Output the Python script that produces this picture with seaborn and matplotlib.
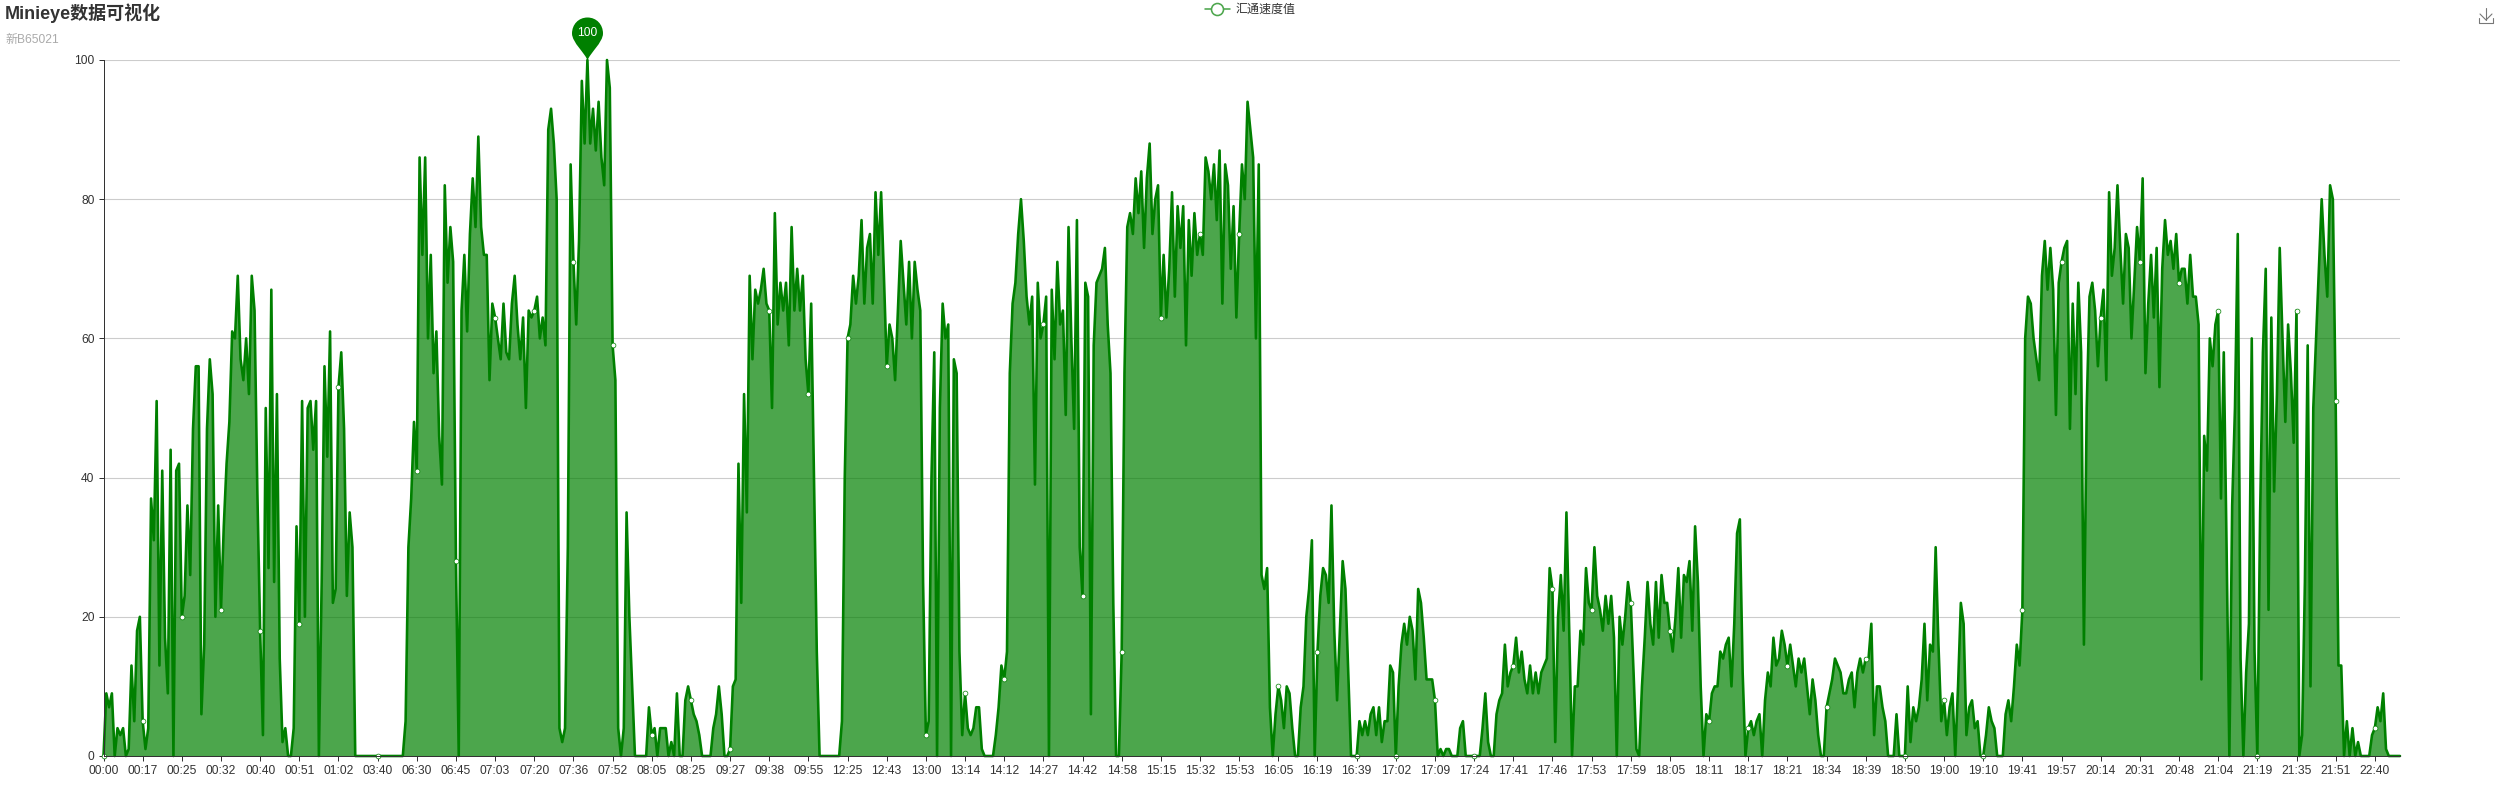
import numpy as np
import pandas as pd
import matplotlib
matplotlib.use("Agg")
import matplotlib.pyplot as plt
import seaborn as sns
from matplotlib.lines import Line2D
from matplotlib.path import Path

W, H = 2500, 800
PT = 0.72  # one pixel in points at dpi 100

title = "Minieye数据可视化"
subtitle = "新B65021"
series_name = "汇通速度值"

tick_labels = [
    "00:00", "00:17", "00:25", "00:32", "00:40", "00:51", "01:02", "03:40", "06:30", "06:45",
    "07:03", "07:20", "07:36", "07:52", "08:05", "08:25", "09:27", "09:38", "09:55", "12:25",
    "12:43", "13:00", "13:14", "14:12", "14:27", "14:42", "14:58", "15:15", "15:32", "15:53",
    "16:05", "16:19", "16:39", "17:02", "17:09", "17:24", "17:41", "17:46", "17:53", "17:59",
    "18:05", "18:11", "18:17", "18:21", "18:34", "18:39", "18:50", "19:00", "19:10", "19:41",
    "19:57", "20:14", "20:31", "20:48", "21:04", "21:19", "21:35", "21:51", "22:40",
]
y_ticks = [0, 20, 40, 60, 80, 100]

# one row per labelled tick, 14 readings between two labels
points_per_tick = 14
speed = [
    0, 9, 7, 9, 0, 4, 3, 4, 0, 1, 13, 5, 18, 20,
    5, 1, 4, 37, 31, 51, 13, 41, 17, 9, 44, 0, 41, 42,
    20, 23, 36, 26, 47, 56, 56, 6, 16, 47, 57, 52, 20, 36,
    21, 33, 42, 48, 61, 60, 69, 57, 54, 60, 52, 69, 64, 38,
    18, 3, 50, 27, 67, 25, 52, 14, 2, 4, 0, 0, 4, 33,
    19, 51, 20, 50, 51, 44, 51, 0, 25, 56, 43, 61, 22, 24,
    53, 58, 47, 23, 35, 30, 0, 0, 0, 0, 0, 0, 0, 0,
    0, 0, 0, 0, 0, 0, 0, 0, 0, 0, 5, 30, 37, 48,
    41, 86, 72, 86, 60, 72, 55, 61, 46, 39, 82, 68, 76, 71,
    28, 0, 64, 72, 61, 75, 83, 76, 89, 76, 72, 72, 54, 65,
    63, 60, 57, 65, 58, 57, 65, 69, 62, 57, 63, 50, 64, 63,
    64, 66, 60, 63, 59, 90, 93, 88, 80, 4, 2, 4, 30, 85,
    71, 62, 74, 97, 88, 100, 88, 93, 87, 94, 86, 82, 100, 96,
    59, 54, 4, 0, 4, 35, 20, 10, 0, 0, 0, 0, 0, 7,
    3, 4, 0, 4, 4, 4, 0, 2, 0, 9, 0, 0, 8, 10,
    8, 6, 5, 3, 0, 0, 0, 0, 4, 6, 10, 6, 0, 0,
    1, 10, 11, 42, 22, 52, 35, 69, 57, 67, 65, 67, 70, 65,
    64, 50, 78, 62, 68, 64, 68, 59, 76, 64, 70, 64, 69, 57,
    52, 65, 40, 15, 0, 0, 0, 0, 0, 0, 0, 0, 5, 40,
    60, 62, 69, 65, 69, 77, 65, 73, 75, 65, 81, 72, 81, 69,
    56, 62, 60, 54, 64, 74, 68, 62, 71, 60, 71, 67, 64, 25,
    3, 5, 40, 58, 0, 50, 65, 60, 62, 0, 57, 55, 15, 3,
    9, 4, 3, 4, 7, 7, 1, 0, 0, 0, 0, 3, 7, 13,
    11, 15, 55, 65, 68, 75, 80, 74, 66, 62, 66, 39, 68, 60,
    62, 66, 0, 67, 57, 71, 62, 64, 49, 76, 60, 47, 77, 30,
    23, 68, 66, 6, 59, 68, 69, 70, 73, 62, 55, 22, 0, 0,
    15, 55, 76, 78, 75, 83, 78, 84, 73, 83, 88, 75, 80, 82,
    63, 72, 63, 70, 81, 66, 79, 73, 79, 59, 77, 69, 78, 72,
    75, 72, 86, 84, 80, 85, 77, 87, 65, 85, 82, 70, 79, 63,
    75, 85, 80, 94, 90, 86, 60, 85, 26, 24, 27, 7, 0, 6,
    10, 8, 4, 10, 9, 4, 0, 0, 7, 10, 20, 24, 31, 0,
    15, 23, 27, 26, 22, 36, 18, 8, 18, 28, 24, 12, 0, 0,
    0, 5, 3, 5, 3, 6, 7, 3, 7, 2, 5, 5, 13, 12,
    0, 10, 16, 19, 16, 20, 18, 11, 24, 22, 17, 11, 11, 11,
    8, 0, 1, 0, 1, 1, 0, 0, 0, 4, 5, 0, 0, 0,
    0, 0, 0, 4, 9, 2, 0, 0, 6, 8, 9, 16, 10, 12,
    13, 17, 12, 15, 11, 9, 13, 9, 12, 9, 12, 13, 14, 27,
    24, 2, 20, 26, 18, 35, 18, 0, 10, 10, 18, 16, 27, 22,
    21, 30, 23, 21, 18, 23, 19, 23, 17, 0, 20, 16, 20, 25,
    22, 12, 1, 0, 10, 17, 25, 19, 16, 25, 17, 26, 22, 22,
    18, 15, 20, 27, 17, 26, 25, 28, 18, 33, 25, 10, 0, 6,
    5, 9, 10, 10, 15, 14, 16, 17, 10, 19, 32, 34, 12, 0,
    4, 5, 3, 5, 6, 0, 8, 12, 10, 17, 13, 14, 18, 16,
    13, 16, 13, 10, 14, 12, 14, 10, 6, 11, 8, 3, 0, 0,
    7, 9, 11, 14, 13, 12, 9, 9, 11, 12, 7, 12, 14, 12,
    14, 14, 19, 3, 10, 10, 7, 5, 0, 0, 0, 6, 0, 0,
    0, 10, 2, 7, 5, 7, 11, 19, 8, 16, 15, 30, 16, 5,
    8, 3, 7, 9, 0, 10, 22, 19, 3, 7, 8, 4, 5, 0,
    0, 3, 7, 5, 4, 0, 0, 0, 6, 8, 5, 10, 16, 13,
    21, 60, 66, 65, 60, 57, 54, 69, 74, 67, 73, 67, 49, 68,
    71, 73, 74, 47, 65, 52, 68, 58, 16, 50, 66, 68, 64, 56,
    63, 67, 54, 81, 69, 73, 82, 73, 65, 75, 73, 60, 68, 76,
    71, 83, 55, 65, 72, 63, 73, 53, 70, 77, 72, 74, 70, 75,
    68, 70, 70, 65, 72, 66, 66, 62, 11, 46, 41, 60, 56, 62,
    64, 37, 58, 30, 0, 36, 50, 75, 14, 0, 12, 19, 60, 15,
    0, 35, 58, 70, 21, 63, 38, 52, 73, 60, 48, 62, 55, 45,
    64, 0, 3, 25, 59, 10, 50, 60, 70, 80, 72, 66, 82, 80,
    51, 13, 13, 0, 5, 0, 4, 0, 2, 0, 0, 0, 0, 3,
    4, 7, 5, 9, 1, 0, 0, 0, 0, 0,
]

GREEN = "#008000"
TEXT = "#333333"

sns.set_theme(style="white")
plt.rcParams["font.family"] = ["Liberation Sans", "Noto Sans CJK SC", "DejaVu Sans"]

df = pd.DataFrame({"idx": np.arange(len(speed)), "speed": speed})
tick_pos = df["idx"].values[::points_per_tick][:len(tick_labels)]
shown = df[df["idx"].isin(tick_pos)]

fig = plt.figure(figsize=(W / 100, H / 100), dpi=100)
ax = fig.add_axes([103.5 / W, 1 - 756 / H, (2400 - 103.5) / W, (756 - 60) / H])

ax.yaxis.grid(True, color="#cccccc", lw=1.1 * PT)
ax.set_axisbelow(True)

ax.fill_between(df["idx"], df["speed"], color=GREEN, alpha=0.7, lw=0)
sns.lineplot(data=df, x="idx", y="speed", ax=ax, color=GREEN, lw=2.6 * PT,
             errorbar=None, clip_on=False, solid_joinstyle="round", legend=False)
sns.scatterplot(data=shown, x="idx", y="speed", ax=ax, color="white", edgecolor=GREEN,
                linewidth=0.5, s=12, clip_on=False, zorder=5, legend=False)

ax.set_xlim(0, len(speed) - 1)
ax.set_ylim(0, 100)
ax.set_xlabel("")
ax.set_ylabel("")
ax.set_xticks(tick_pos)
ax.set_xticklabels(tick_labels)
ax.set_yticks(y_ticks)
ax.tick_params(axis="both", length=5 * PT, width=1 * PT, color=TEXT, labelcolor=TEXT,
               labelsize=12 * PT, pad=4 * PT, bottom=True, left=True)
for name in ["top", "right"]:
    ax.spines[name].set_visible(False)
for name in ["left", "bottom"]:
    ax.spines[name].set_color(TEXT)
    ax.spines[name].set_linewidth(1 * PT)
    ax.spines[name].set_zorder(6)

# pin on the maximum, tip sits on the point
pin = Path(
    [(0, 0), (-2, 7), (-15.5, 18), (-15.5, 27), (-15.5, 36), (-9, 43), (0, 43),
     (9, 43), (15.5, 36), (15.5, 27), (15.5, 18), (2, 7), (0, 0), (0, 0)],
    [Path.MOVETO] + [Path.CURVE4] * 12 + [Path.CLOSEPOLY],
)
imax = int(np.argmax(speed))
ax.plot([imax], [speed[imax]], marker=pin, ms=86 * PT, color=GREEN, mew=0, clip_on=False, zorder=7)
ax.annotate(str(speed[imax]), (imax, speed[imax]), xytext=(0, 27 * PT), textcoords="offset points",
            ha="center", va="center", color="white", fontsize=12 * PT, zorder=8,
            annotation_clip=False)

# title and subtitle
fig.text(5 / W, 1 - 19 / H, title, fontsize=18 * PT, fontweight="bold", color=TEXT, va="baseline")
fig.text(5 / W, 1 - 43 / H, subtitle, fontsize=12 * PT, color="#aaaaaa", va="baseline")

# legend
handle = Line2D([], [], color="#4da64d", lw=1.6 * PT, marker="o", ms=12 * PT, mfc="white",
                mec="#4da64d", mew=1.6 * PT)
fig.legend([handle], [series_name], loc="center left", bbox_to_anchor=(1205 / W, 1 - 10 / H),
           frameon=False, fontsize=12 * PT, labelcolor=TEXT, handlelength=2.08, handletextpad=0.42,
           borderpad=0, borderaxespad=0)

# download icon
icon = [
    ([2486, 2486], [8, 20]),
    ([2480, 2486, 2492], [14, 20, 14]),
    ([2479, 2479, 2493, 2493], [18, 23, 23, 18]),
]
for xs, ys in icon:
    fig.add_artist(Line2D(np.array(xs) / W, 1 - np.array(ys) / H, color="#777777", lw=1.1 * PT))

fig.savefig("out.png", dpi=100)
